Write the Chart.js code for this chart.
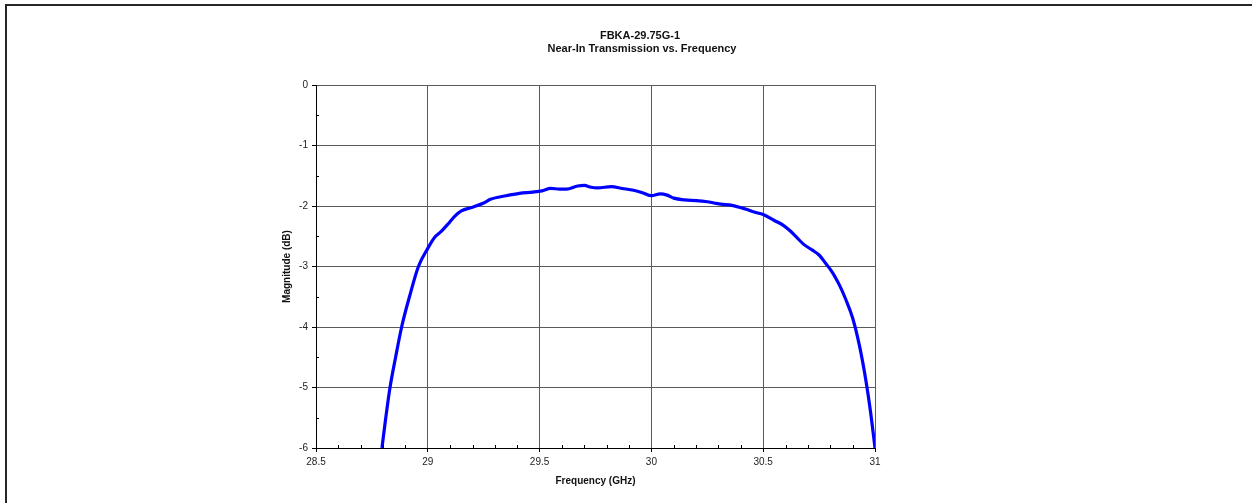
<!DOCTYPE html>
<html>
<head>
<meta charset="utf-8">
<script src="https://cdn.jsdelivr.net/npm/chart.js@4/dist/chart.umd.min.js"></script>
<style>
  html, body { margin: 0; padding: 0; background: #fff; overflow: hidden; }
  #wrap { position: relative; width: 1252px; height: 503px; }
  #frame { position: absolute; left: 5px; top: 4px; width: 1400px; height: 600px;
           border-top: 2.5px solid #262626; border-left: 2.5px solid #262626; }
  canvas { position: absolute; left: 0; top: 0; }
</style>
</head>
<body>
<div id="wrap">
  <div id="frame"></div>
  <canvas id="chart" width="1252" height="503"></canvas>
</div>
<script>
// frequency in GHz
const freqGHz = [28.795, 28.812, 28.831, 28.856, 28.883, 28.918, 28.958, 29.0, 29.03, 29.06,
  29.09, 29.12, 29.15, 29.2, 29.25, 29.28, 29.35, 29.41, 29.47, 29.51,
  29.55, 29.59, 29.62, 29.67, 29.7, 29.73, 29.76, 29.82, 29.87, 29.92,
  29.96, 30.0, 30.04, 30.07, 30.1, 30.15, 30.2, 30.25, 30.28, 30.31,
  30.36, 30.42, 30.46, 30.5, 30.55, 30.59, 30.62, 30.65, 30.68, 30.72,
  30.75, 30.78, 30.81, 30.84, 30.87, 30.9, 30.93, 30.96, 30.98, 31.0];
// transmission magnitude in dB
const magnitudeDb = [-6.0, -5.5, -5.0, -4.5, -4.0, -3.5, -3.0, -2.7, -2.52, -2.42,
  -2.3, -2.17, -2.08, -2.02, -1.95, -1.89, -1.83, -1.79, -1.77, -1.75,
  -1.71, -1.72, -1.72, -1.67, -1.66, -1.69, -1.7, -1.68, -1.71, -1.74,
  -1.78, -1.83, -1.8, -1.82, -1.87, -1.9, -1.91, -1.93, -1.95, -1.97,
  -1.99, -2.05, -2.1, -2.14, -2.24, -2.32, -2.41, -2.52, -2.63, -2.73,
  -2.81, -2.95, -3.1, -3.3, -3.55, -3.85, -4.3, -4.9, -5.4, -6.0];

const titleLines = ['FBKA-29.75G-1', 'Near-In Transmission vs. Frequency'];
const xTitle = 'Frequency (GHz)';
const yTitle = 'Magnitude (dB)';
const xMinorTicks = [28.6, 28.7, 28.8, 28.9, 29.1, 29.2, 29.3, 29.4, 29.6, 29.7, 29.8, 29.9,
  30.1, 30.2, 30.3, 30.4, 30.6, 30.7, 30.8, 30.9];
const yMinorTicks = [-0.5, -1.5, -2.5, -3.5, -4.5, -5.5];

const FONT = 'Arial, "Liberation Sans", sans-serif';

// titles, axis titles and the small inside ticks
const decorations = {
  id: 'decorations',
  afterDraw(chart) {
    const ctx = chart.ctx;
    const area = chart.chartArea;
    const xs = chart.scales.x, ys = chart.scales.y;
    ctx.save();
    ctx.strokeStyle = '#000';
    ctx.lineWidth = 1;
    ctx.beginPath();
    xMinorTicks.forEach(v => {
      const px = Math.round(xs.getPixelForValue(v)) + 0.5;
      ctx.moveTo(px, area.bottom);
      ctx.lineTo(px, area.bottom - 3);
    });
    yMinorTicks.forEach(v => {
      const py = Math.round(ys.getPixelForValue(v)) + 0.5;
      ctx.moveTo(area.left, py);
      ctx.lineTo(area.left + 3, py);
    });
    ctx.stroke();

    ctx.fillStyle = '#111';
    ctx.textAlign = 'center';
    ctx.textBaseline = 'middle';
    ctx.font = 'bold 11px ' + FONT;
    ctx.fillText(titleLines[0], 640, 36);
    ctx.fillText(titleLines[1], 642, 49);

    ctx.font = 'bold 10px ' + FONT;
    ctx.fillText(xTitle, (area.left + area.right) / 2, 481);
    ctx.translate(287, (area.top + area.bottom) / 2);
    ctx.rotate(-Math.PI / 2);
    ctx.fillText(yTitle, 0, 0);
    ctx.restore();
  }
};

new Chart(document.getElementById('chart').getContext('2d'), {
  type: 'line',
  data: {
    datasets: [{
      label: 'S21',
      data: freqGHz.map((f, i) => ({ x: f, y: magnitudeDb[i] })),
      borderColor: '#0000FF',
      borderWidth: 3.2,
      pointRadius: 0,
      cubicInterpolationMode: 'monotone',
      fill: false
    }]
  },
  options: {
    responsive: false,
    animation: false,
    devicePixelRatio: 1,
    layout: { padding: { top: 85, right: 377, bottom: 15, left: 266 } },
    plugins: {
      legend: { display: false },
      title: { display: false },
      tooltip: { enabled: false }
    },
    scales: {
      x: {
        type: 'linear',
        min: 28.5,
        max: 31,
        afterFit: (s) => { s.height = 40; },
        ticks: {
          stepSize: 0.5, padding: 4, color: '#222', maxRotation: 0,
          font: { family: FONT, size: 10 },
          callback: (v) => String(Math.round(v * 10) / 10)
        },
        grid: { color: '#5a5a5a', lineWidth: 1, tickLength: 4, tickColor: '#000' },
        border: { color: '#000', width: 1 }
      },
      y: {
        min: -6,
        max: 0,
        afterFit: (s) => { s.width = 50; },
        ticks: {
          stepSize: 1, padding: 4, color: '#222',
          font: { family: FONT, size: 10 },
          callback: (v) => String(v)
        },
        grid: { color: '#5a5a5a', lineWidth: 1, tickLength: 4, tickColor: '#000' },
        border: { color: '#000', width: 1 }
      }
    }
  },
  plugins: [decorations]
});
</script>
</body>
</html>
